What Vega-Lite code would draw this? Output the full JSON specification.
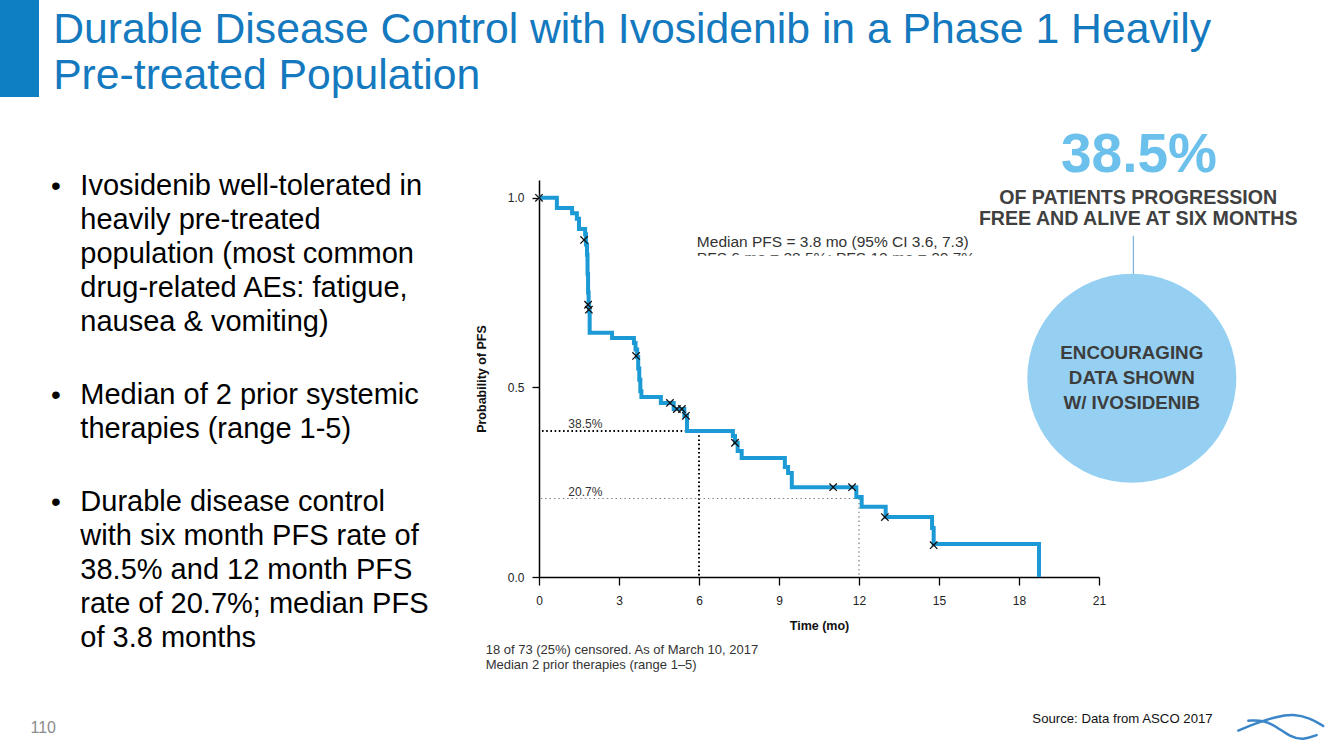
{
  "$schema": "https://vega.github.io/schema/vega-lite/v6.json",
  "width": 560,
  "height": 397,
  "autosize": {"type": "none"},
  "padding": {"left": 539, "top": 180, "right": 245, "bottom": 179},
  "background": "white",
  "config": {
    "view": {"stroke": null},
    "font": "Liberation Sans",
    "text": {"font": "Liberation Sans"},
    "axis": {"grid": false, "labelFont": "Liberation Sans", "titleFont": "Liberation Sans"}
  },
  "data": {"values": [{"note": "annotation"}]},
  "datasets": {
    "km": [
      {"t": 0, "p": 1.0}, {"t": 0.67, "p": 0.973}, {"t": 1.24, "p": 0.959}, {"t": 1.42, "p": 0.945},
      {"t": 1.5, "p": 0.918}, {"t": 1.73, "p": 0.904}, {"t": 1.76, "p": 0.877}, {"t": 1.8, "p": 0.85},
      {"t": 1.82, "p": 0.8}, {"t": 1.84, "p": 0.75}, {"t": 1.86, "p": 0.72}, {"t": 1.88, "p": 0.7},
      {"t": 1.9, "p": 0.644}, {"t": 2.74, "p": 0.63}, {"t": 3.56, "p": 0.617}, {"t": 3.62, "p": 0.6},
      {"t": 3.68, "p": 0.58}, {"t": 3.72, "p": 0.55}, {"t": 3.76, "p": 0.52}, {"t": 3.8, "p": 0.49},
      {"t": 3.84, "p": 0.475}, {"t": 4.57, "p": 0.459}, {"t": 5.05, "p": 0.443}, {"t": 5.45, "p": 0.425},
      {"t": 5.55, "p": 0.385}, {"t": 7.27, "p": 0.372}, {"t": 7.35, "p": 0.354}, {"t": 7.45, "p": 0.332},
      {"t": 7.6, "p": 0.314}, {"t": 9.22, "p": 0.29}, {"t": 9.34, "p": 0.274}, {"t": 9.48, "p": 0.237},
      {"t": 11.9, "p": 0.211}, {"t": 12.1, "p": 0.185}, {"t": 13.0, "p": 0.158}, {"t": 14.74, "p": 0.129},
      {"t": 14.8, "p": 0.087}, {"t": 18.75, "p": 0.0}
    ],
    "censor": [
      {"t": 0, "p": 1.0}, {"t": 1.69, "p": 0.889}, {"t": 1.84, "p": 0.718}, {"t": 1.87, "p": 0.705},
      {"t": 3.64, "p": 0.583}, {"t": 4.91, "p": 0.459}, {"t": 5.17, "p": 0.443}, {"t": 5.36, "p": 0.443},
      {"t": 5.51, "p": 0.425}, {"t": 7.35, "p": 0.354}, {"t": 11.03, "p": 0.237}, {"t": 11.74, "p": 0.237},
      {"t": 12.97, "p": 0.158}, {"t": 14.8, "p": 0.084}
    ],
    "refs": [
      {"t": 6, "p": 0.385, "label": "38.5%"},
      {"t": 12, "p": 0.207, "label": "20.7%"}
    ],
    "logo": [
      {"curve": "a", "i": 1, "t": 26.22, "p": -0.405}, {"curve": "a", "i": 2, "t": 26.91, "p": -0.385},
      {"curve": "a", "i": 3, "t": 27.66, "p": -0.368}, {"curve": "a", "i": 4, "t": 28.29, "p": -0.361},
      {"curve": "a", "i": 5, "t": 28.91, "p": -0.372}, {"curve": "a", "i": 6, "t": 29.41, "p": -0.393},
      {"curve": "b", "i": 1, "t": 26.6, "p": -0.379}, {"curve": "b", "i": 2, "t": 27.16, "p": -0.377},
      {"curve": "b", "i": 3, "t": 27.66, "p": -0.395}, {"curve": "b", "i": 4, "t": 28.16, "p": -0.421},
      {"curve": "b", "i": 5, "t": 28.66, "p": -0.43}, {"curve": "b", "i": 6, "t": 29.16, "p": -0.417}
    ]
  },
  "layer": [
    {
      "data": {"name": "km"},
      "mark": {"type": "line", "interpolate": "step-after", "color": "#1b9ad6", "strokeWidth": 4, "opacity": 0},
      "encoding": {
        "x": {
          "field": "t", "type": "quantitative",
          "scale": {"domain": [0, 21], "nice": false, "zero": false},
          "axis": {
            "values": [0, 3, 6, 9, 12, 15, 18, 21], "title": "Time (mo)", "tickSize": 8, "labelPadding": 10,
            "domainColor": "#000000", "tickColor": "#000000", "domainWidth": 1.3, "tickWidth": 1.3,
            "labelColor": "#222222", "labelFontSize": 12, "labelFlush": false,
            "titleFontSize": 12.5, "titleFontWeight": "bold", "titleColor": "#111111", "titlePadding": 13
          }
        },
        "y": {
          "field": "p", "type": "quantitative",
          "scale": {"domain": [0, 1.047], "nice": false, "zero": false},
          "axis": {
            "values": [0, 0.5, 1], "format": ".1f", "title": "Probability of PFS", "tickSize": 7, "labelPadding": 8,
            "domainColor": "#000000", "tickColor": "#000000", "domainWidth": 1.5, "tickWidth": 1.3,
            "labelColor": "#222222", "labelFontSize": 12,
            "titleFontSize": 12.5, "titleFontWeight": "bold", "titleColor": "#111111", "titlePadding": 19
          }
        }
      }
    },
    {
      "data": {"name": "refs"},
      "transform": [{"filter": "datum.label == '38.5%'"}],
      "mark": {"type": "rule", "strokeDash": [1.6, 2.6], "color": "#000000", "strokeWidth": 2},
      "encoding": {
        "x": {"field": "t", "type": "quantitative"},
        "x2": {"datum": 0},
        "y": {"field": "p", "type": "quantitative"}
      }
    },
    {
      "data": {"name": "refs"},
      "transform": [{"filter": "datum.label == '38.5%'"}],
      "mark": {"type": "rule", "strokeDash": [1.6, 2.6], "color": "#000000", "strokeWidth": 2},
      "encoding": {
        "x": {"field": "t", "type": "quantitative"},
        "y": {"field": "p", "type": "quantitative"},
        "y2": {"datum": 0}
      }
    },
    {
      "data": {"name": "refs"},
      "transform": [{"filter": "datum.label == '20.7%'"}],
      "mark": {"type": "rule", "strokeDash": [1.4, 3], "color": "#7a7a7a", "strokeWidth": 1.2},
      "encoding": {
        "x": {"field": "t", "type": "quantitative"},
        "x2": {"datum": 0},
        "y": {"field": "p", "type": "quantitative"}
      }
    },
    {
      "data": {"name": "refs"},
      "transform": [{"filter": "datum.label == '20.7%'"}],
      "mark": {"type": "rule", "strokeDash": [1.4, 3], "color": "#7a7a7a", "strokeWidth": 1.2},
      "encoding": {
        "x": {"field": "t", "type": "quantitative"},
        "y": {"field": "p", "type": "quantitative"},
        "y2": {"datum": 0}
      }
    },
    {
      "data": {"name": "refs"},
      "mark": {"type": "text", "align": "left", "baseline": "alphabetic", "dy": -3, "fontSize": 12, "color": "#333333"},
      "encoding": {
        "x": {"datum": 1.1, "type": "quantitative"},
        "y": {"field": "p", "type": "quantitative"},
        "text": {"field": "label", "type": "nominal"}
      }
    },
    {
      "data": {"name": "km"},
      "mark": {"type": "line", "interpolate": "step-after", "color": "#1b9ad6", "strokeWidth": 4},
      "encoding": {
        "x": {"field": "t", "type": "quantitative"},
        "y": {"field": "p", "type": "quantitative"}
      }
    },
    {
      "data": {"name": "censor"},
      "mark": {"type": "point", "shape": "M-1,-1L1,1M-1,1L1,-1", "filled": false, "stroke": "#111111", "strokeWidth": 1.3, "size": 55, "opacity": 1},
      "encoding": {
        "x": {"field": "t", "type": "quantitative"},
        "y": {"field": "p", "type": "quantitative"}
      }
    },
    {
      "mark": {"type": "text", "text": ["Median PFS = 3.8 mo (95% CI 3.6, 7.3)", "PFS 6 mo = 38.5%; PFS 12 mo = 20.7%"], "align": "left", "baseline": "alphabetic", "fontSize": 15.5, "lineHeight": 16.5, "color": "#333333"},
      "encoding": {"x": {"datum": 5.92, "type": "quantitative"}, "y": {"datum": 0.871, "type": "quantitative"}}
    },
    {
      "mark": {"type": "rect", "color": "white"},
      "encoding": {
        "x": {"datum": 5.7, "type": "quantitative"}, "x2": {"datum": 17.5},
        "y": {"datum": 0.847, "type": "quantitative"}, "y2": {"datum": 0.79}
      }
    },
    {
      "mark": {"type": "text", "text": ["18 of 73 (25%) censored. As of March 10, 2017", "Median 2 prior therapies (range 1\u20135)"], "align": "left", "baseline": "alphabetic", "fontSize": 13, "lineHeight": 15.5, "color": "#333333"},
      "encoding": {"x": {"datum": -2.0, "type": "quantitative"}, "y": {"datum": -0.203, "type": "quantitative"}}
    },
    {
      "mark": {"type": "rect", "color": "#0f7fc3"},
      "encoding": {
        "x": {"datum": -20.3, "type": "quantitative"}, "x2": {"datum": -18.75},
        "y": {"datum": 1.53, "type": "quantitative"}, "y2": {"datum": 1.266}
      }
    },
    {
      "mark": {"type": "text", "text": ["Durable Disease Control with Ivosidenib in a Phase 1 Heavily", "Pre-treated Population"], "align": "left", "baseline": "alphabetic", "fontSize": 42.7, "lineHeight": 46.5, "color": "#1479be"},
      "encoding": {"x": {"datum": -18.22, "type": "quantitative"}, "y": {"datum": 1.409, "type": "quantitative"}}
    },
    {
      "mark": {"type": "text", "text": "\u2022", "align": "left", "baseline": "alphabetic", "fontSize": 28, "color": "#000000"},
      "encoding": {"x": {"datum": -18.3, "type": "quantitative"}, "y": {"datum": 1.008, "type": "quantitative"}}
    },
    {
      "mark": {"type": "text", "text": "\u2022", "align": "left", "baseline": "alphabetic", "fontSize": 28, "color": "#000000"},
      "encoding": {"x": {"datum": -18.3, "type": "quantitative"}, "y": {"datum": 0.4565, "type": "quantitative"}}
    },
    {
      "mark": {"type": "text", "text": "\u2022", "align": "left", "baseline": "alphabetic", "fontSize": 28, "color": "#000000"},
      "encoding": {"x": {"datum": -18.3, "type": "quantitative"}, "y": {"datum": 0.1741, "type": "quantitative"}}
    },
    {
      "mark": {"type": "text", "text": ["Ivosidenib well-tolerated in", "heavily pre-treated", "population (most common", "drug-related AEs: fatigue,", "nausea & vomiting)"], "align": "left", "baseline": "alphabetic", "fontSize": 29, "lineHeight": 34, "color": "#000000"},
      "encoding": {"x": {"datum": -17.2, "type": "quantitative"}, "y": {"datum": 1.008, "type": "quantitative"}}
    },
    {
      "mark": {"type": "text", "text": ["Median of 2 prior systemic", "therapies (range 1-5)"], "align": "left", "baseline": "alphabetic", "fontSize": 29, "lineHeight": 34, "color": "#000000"},
      "encoding": {"x": {"datum": -17.2, "type": "quantitative"}, "y": {"datum": 0.4565, "type": "quantitative"}}
    },
    {
      "mark": {"type": "text", "text": ["Durable disease control", "with six month PFS rate of", "38.5% and 12 month PFS", "rate of 20.7%; median PFS", "of 3.8 months"], "align": "left", "baseline": "alphabetic", "fontSize": 29, "lineHeight": 34, "color": "#000000"},
      "encoding": {"x": {"datum": -17.2, "type": "quantitative"}, "y": {"datum": 0.1741, "type": "quantitative"}}
    },
    {
      "mark": {"type": "text", "text": "110", "align": "left", "baseline": "alphabetic", "fontSize": 16, "color": "#8c8c8c"},
      "encoding": {"x": {"datum": -19.07, "type": "quantitative"}, "y": {"datum": -0.4116, "type": "quantitative"}}
    },
    {
      "mark": {"type": "text", "text": "Source: Data from ASCO 2017", "align": "left", "baseline": "alphabetic", "fontSize": 13.2, "color": "#111111"},
      "encoding": {"x": {"datum": 18.5, "type": "quantitative"}, "y": {"datum": -0.385, "type": "quantitative"}}
    },
    {
      "data": {"name": "logo"},
      "mark": {"type": "line", "interpolate": "basis", "color": "#3a86c8", "strokeWidth": 2.5, "strokeCap": "round"},
      "encoding": {
        "x": {"field": "t", "type": "quantitative"},
        "y": {"field": "p", "type": "quantitative"},
        "detail": {"field": "curve", "type": "nominal"},
        "order": {"field": "i", "type": "quantitative"}
      }
    },
    {
      "mark": {"type": "text", "text": "38.5%", "align": "center", "baseline": "alphabetic", "fontSize": 55, "fontWeight": "bold", "color": "#6cc0ec"},
      "encoding": {"x": {"datum": 22.5, "type": "quantitative"}, "y": {"datum": 1.0686, "type": "quantitative"}}
    },
    {
      "mark": {"type": "text", "text": ["OF PATIENTS PROGRESSION", "FREE AND ALIVE AT SIX MONTHS"], "align": "center", "baseline": "alphabetic", "fontSize": 19.6, "lineHeight": 21, "fontWeight": "bold", "color": "#404040"},
      "encoding": {"x": {"datum": 22.47, "type": "quantitative"}, "y": {"datum": 0.984, "type": "quantitative"}}
    },
    {
      "mark": {"type": "rule", "color": "#7fb5d6", "strokeWidth": 1.3},
      "encoding": {
        "x": {"datum": 22.29, "type": "quantitative"},
        "y": {"datum": 0.9, "type": "quantitative"}, "y2": {"datum": 0.78}
      }
    },
    {
      "mark": {"type": "point", "shape": "circle", "filled": true, "color": "#95d0f2", "opacity": 1, "size": 43681},
      "encoding": {"x": {"datum": 22.23, "type": "quantitative"}, "y": {"datum": 0.524, "type": "quantitative"}}
    },
    {
      "mark": {"type": "text", "text": ["ENCOURAGING", "DATA SHOWN", "W/ IVOSIDENIB"], "align": "center", "baseline": "alphabetic", "fontSize": 18.8, "lineHeight": 25, "fontWeight": "bold", "color": "#3d3d3d"},
      "encoding": {"x": {"datum": 22.23, "type": "quantitative"}, "y": {"datum": 0.574, "type": "quantitative"}}
    }
  ]
}
